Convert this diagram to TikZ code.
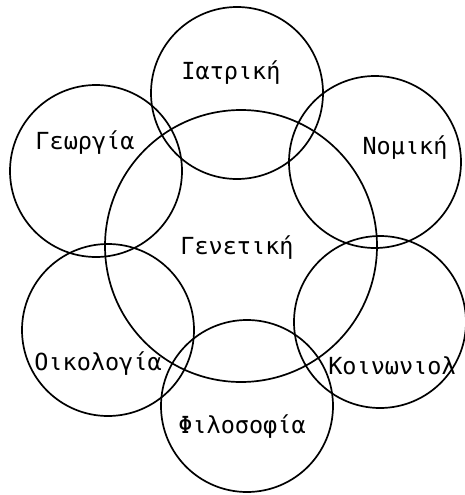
\documentclass[tikz,border=0pt]{standalone}
\usepackage{fontspec}
\newfontfamily\lblfont{DejaVu Sans Mono}
\begin{document}
\begin{tikzpicture}[x=1pt,y=-1pt,
  ring/.style={draw, circle, line width=1.7pt, inner sep=0pt, minimum size=172pt},
  bigring/.style={draw, circle, line width=1.7pt, inner sep=0pt, minimum size=272pt},
  lbl/.style={font=\lblfont\fontsize{23.5}{24}\selectfont, inner sep=0pt}]
\useasboundingbox (0,0) rectangle (464,495);
\node[bigring] (gen) at (241,246) {};
\node[ring] (iat) at (237,93) {};
\node[ring] (geo) at (96,171) {};
\node[ring] (nom) at (375,162) {};
\node[ring] (oik) at (108,330) {};
\node[ring] (koi) at (380,322) {};
\node[ring] (fil) at (247,406) {};
\node[lbl] (tiat) at (231,73) {Ιατρική};
\node[lbl] (tgeo) at (85,143) {Γεωργία};
\node[lbl] (tnom) at (405,148) {Νομική};
\node[lbl] (tgen) at (237,248) {Γενετική};
\node[lbl] (toik) at (98,364) {Οικολογία};
\node[lbl] (tkoi) at (392,366) {Κοινωνιολ};
\node[lbl] (tfil) at (242,427) {Φιλοσοφία};
\end{tikzpicture}
\end{document}
